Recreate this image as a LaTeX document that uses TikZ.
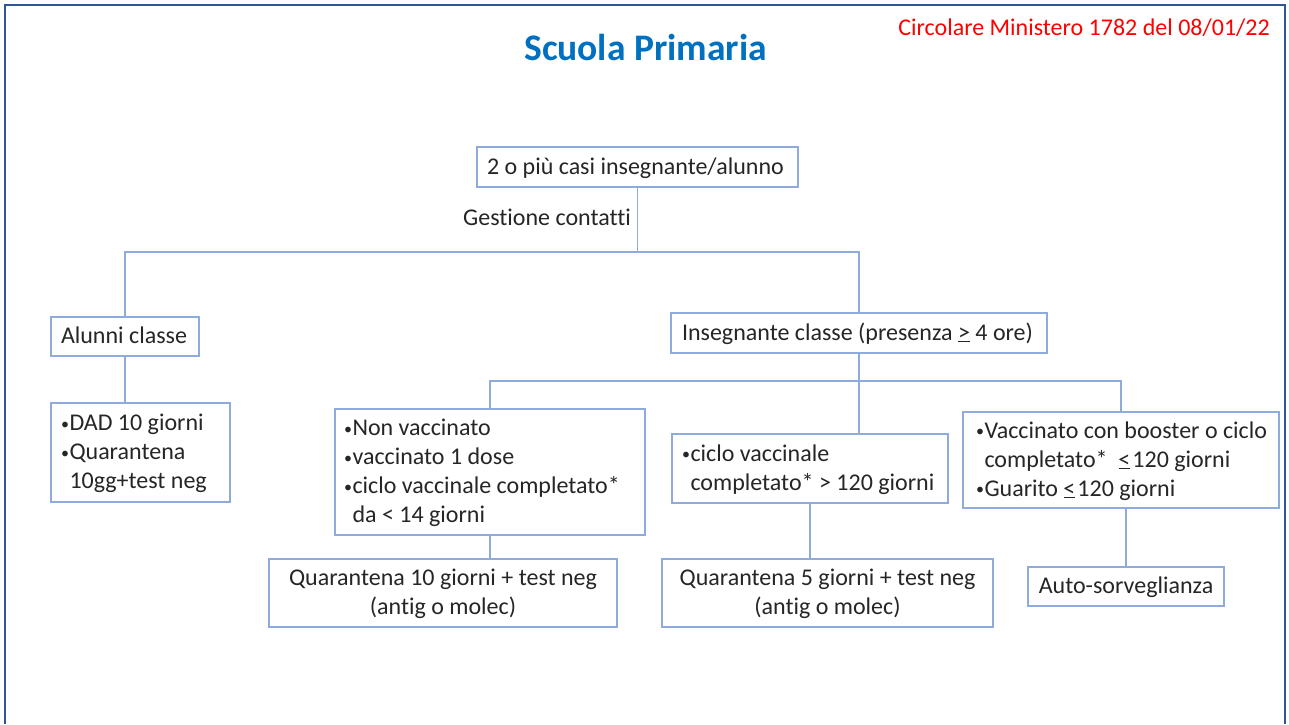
\documentclass[tikz,border=0pt]{standalone}
\usepackage{fontspec}
\setmainfont{Carlito}[Ligatures=NoCommon]
\definecolor{boxc}{RGB}{143,170,220}
\definecolor{framec}{RGB}{47,85,151}
\definecolor{titleblue}{RGB}{0,112,192}
\definecolor{circred}{RGB}{255,0,0}
\definecolor{txt}{RGB}{38,38,38}
\newcommand\lnst{\rule[-6pt]{0pt}{26pt}}
\newcommand\bu{\makebox[8.5pt][l]{\raisebox{1.5pt}{\fontsize{16}{16}\selectfont •}}}
\newcommand\bh{\hspace*{8.5pt}}
\begin{document}
\begin{tikzpicture}[x=1pt,y=-1pt,
  bx/.style={draw=boxc, line width=1.3pt, fill=white, text=txt,
    font=\fontsize{24}{29}\selectfont, inner ysep=0pt},
  lbox/.style={bx, align=flush left},
  cbox/.style={bx, align=flush center},
  conn/.style={draw=boxc, line width=1.3pt},
  plain/.style={text=txt, font=\fontsize{24}{29}\selectfont, inner sep=0pt}]
\useasboundingbox (0,0) rectangle (1289,724);
\fill[white] (0,0) rectangle (1289,724);
\draw[framec, line width=2.5pt] (5,724) -- (5,5) -- (1285,5) -- (1285,724);

\node[anchor=base, inner sep=0pt, text=titleblue, font=\fontsize{37.5}{40}\selectfont\bfseries] (title) at (645.5,60) {Scuola Primaria};
\node[anchor=base east, inner sep=0pt, text=circred, font=\fontsize{24}{29}\selectfont] (circ) at (1270,35) {Circolare Ministero 1782 del 08/01/22};

\node[lbox, minimum height=40pt, text width=301pt, inner xsep=10pt] (top) at (637.5,167) {\lnst\mbox{2 o più casi insegnante/alunno}};
\node[plain, anchor=base west] (gest) at (463,225) {Gestione contatti};

\node[lbox, minimum height=39pt, text width=128pt, inner xsep=10pt] (alunni) at (125,336.5) {\lnst\mbox{Alunni classe}};
\node[lbox, minimum height=40pt, text width=354pt, inner xsep=11pt] (ins) at (859,333) {\lnst\mbox{Insegnante classe (presenza \underline{>} 4 ore)}};

\node[lbox, minimum height=99pt, text width=159pt, inner xsep=10pt] (dad) at (140.5,452.5)
  {\lnst\bu\mbox{DAD 10 giorni}\\ \lnst\bu Quarantena\\ \lnst\bh\mbox{10gg+test neg}};

\node[lbox, minimum height=126pt, text width=292pt, inner xsep=9pt] (b1) at (490,472)
  {\lnst\bu\mbox{Non vaccinato}\\ \lnst\bu\mbox{vaccinato 1 dose}\\ \lnst\bu\mbox{ciclo vaccinale completato*}\\ \lnst\bh\mbox{da < 14 giorni}};
\node[lbox, minimum height=69pt, text width=256pt, inner xsep=10pt] (b2) at (810,468.5)
  {\lnst\bu\mbox{ciclo vaccinale}\\ \lnst\bh\mbox{completato* > 120 giorni}};
\node[lbox, minimum height=96pt, text width=290pt, inner xsep=13pt] (b3) at (1121,460)
  {\lnst\bu\mbox{Vaccinato con booster o ciclo}\\ \lnst\bh\mbox{completato*\ \ \underline{<}\hspace{2pt}120 giorni}\\ \lnst\bu\mbox{Guarito \underline{<}\hspace{2pt}120 giorni}};

\node[cbox, minimum height=68pt, text width=328pt, inner xsep=10pt] (q10) at (443,593)
  {\lnst\mbox{Quarantena 10 giorni + test neg}\\ \lnst\mbox{(antig o molec)}};
\node[cbox, minimum height=68pt, text width=311pt, inner xsep=10pt] (q5) at (827.5,593)
  {\lnst\mbox{Quarantena 5 giorni + test neg}\\ \lnst\mbox{(antig o molec)}};
\node[cbox, minimum height=39pt, text width=176pt, inner xsep=10pt] (auto) at (1126,586.5)
  {\lnst\mbox{Auto-sorveglianza}};

\coordinate (j1) at (top.south |- 0,252);
\coordinate (j2) at (ins.south |- 0,381);
\draw[conn] (top.south) -- (j1);
\draw[conn] (alunni.north) |- (j1) -| (ins.north);
\draw[conn] (alunni.south) -- (alunni.south |- dad.north);
\draw[conn] (ins.south) -- (j2);
\draw[conn] (b1.north) |- (j2) -| (b3.north);
\draw[conn] (j2) -- (j2 |- b2.north);
\draw[conn] (b1.south) -- (b1.south |- q10.north);
\draw[conn] (b2.south) -- (b2.south |- q5.north);
\draw[conn] (b3.south -| auto.north) -- (auto.north);
\end{tikzpicture}
\end{document}
